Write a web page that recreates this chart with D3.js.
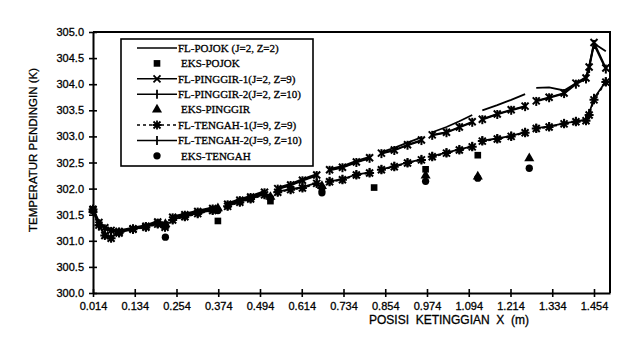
<!DOCTYPE html>
<html>
<head>
<meta charset="utf-8">
<script src="https://cdn.jsdelivr.net/npm/d3@7"></script>
<style>
  body { margin: 0; background: #fff; }
  svg { display: block; }
</style>
</head>
<body>
<svg></svg>
<script>
// x positions of simulated points (null = break between tube sections)
let xFL = [0.014, 0.031, 0.048, 0.066, 0.089, 0.129, 0.166, 0.200, 0.221, null,
           0.243, 0.278, 0.315, 0.358, null,
           0.401, 0.436, 0.467, 0.507, null,
           0.545, 0.582, 0.616, 0.657, null,
           0.694, 0.731, 0.771, 0.809, null,
           0.843, 0.880, 0.918, 0.958, null,
           0.989, 1.030, 1.067, 1.104, null,
           1.133, 1.176, 1.216, 1.256, null,
           1.288, 1.325, 1.368, 1.402, 1.431, 1.440, 1.454, 1.488]

let flPojok = [301.62, 301.37, 301.27, 301.22, 301.20, 301.25, 301.30, 301.38, 301.32, null,
               301.47, 301.52, 301.58, 301.64, null,
               301.72, 301.80, 301.86, 301.95, null,
               302.02, 302.09, 302.18, 302.28, null,
               302.38, 302.43, 302.53, 302.61, null,
               302.70, 302.78, 302.88, 302.98, null,
               303.08, 303.18, 303.29, 303.41, null,
               303.50, 303.60, 303.70, 303.81, null,
               303.93, 303.94, 303.88, 304.02, 304.14, 304.35, 304.78, 304.63]

let flPinggir1 = [301.60, 301.35, 301.25, 301.20, 301.18, 301.23, 301.28, 301.36, 301.30, null,
                  301.45, 301.50, 301.56, 301.62, null,
                  301.70, 301.78, 301.84, 301.93, null,
                  302.00, 302.07, 302.16, 302.26, null,
                  302.36, 302.41, 302.51, 302.59, null,
                  302.68, 302.74, 302.84, 302.93, null,
                  303.03, 303.08, 303.18, 303.28, null,
                  303.33, 303.43, 303.51, 303.58, null,
                  303.68, 303.75, 303.83, 304.02, 304.12, 304.33, 304.80, 304.31]

let flPinggir2 = [301.59, 301.33, 301.23, 301.18, 301.17, 301.22, 301.27, 301.34, 301.29, null,
                  301.44, 301.49, 301.55, 301.61, null,
                  301.69, 301.77, 301.83, 301.92, null,
                  301.99, 302.06, 302.15, 302.25, null,
                  302.35, 302.40, 302.50, 302.58, null,
                  302.67, 302.73, 302.83, 302.92, null,
                  303.02, 303.07, 303.17, 303.27, null,
                  303.32, 303.42, 303.50, 303.57, null,
                  303.67, 303.74, 303.82, 304.00, 304.10, 304.30, 304.76, 304.29]

let flTengah1 = [301.60, 301.30, 301.10, 301.05, 301.15, 301.22, 301.26, 301.32, 301.26, null,
                 301.40, 301.46, 301.52, 301.58, null,
                 301.66, 301.74, 301.80, 301.88, null,
                 301.93, 301.98, 302.01, 302.10, null,
                 302.13, 302.17, 302.26, 302.30, null,
                 302.36, 302.42, 302.49, 302.55, null,
                 302.61, 302.68, 302.74, 302.80, null,
                 302.91, 302.95, 303.00, 303.07, null,
                 303.15, 303.18, 303.24, 303.28, 303.30, 303.41, 303.70, 304.04]

let flTengah2 = [301.58, 301.28, 301.12, 301.07, 301.16, 301.23, 301.27, 301.33, 301.27, null,
                 301.41, 301.47, 301.53, 301.59, null,
                 301.67, 301.75, 301.81, 301.89, null,
                 301.94, 301.99, 302.03, 302.11, null,
                 302.14, 302.18, 302.27, 302.31, null,
                 302.37, 302.43, 302.50, 302.56, null,
                 302.62, 302.69, 302.75, 302.81, null,
                 302.92, 302.96, 303.01, 303.08, null,
                 303.16, 303.19, 303.25, 303.29, 303.32, 303.44, 303.73, 304.05]

// measured points
let xEks = [0.014, 0.222, 0.373, 0.524, 0.672, 0.822, 0.970, 1.120, 1.268]
let eksPojok   = [301.60, 301.30, 301.38, 301.76, 302.00, 302.02, 302.37, 302.64, null]
let eksPinggir = [301.60, 301.32, 301.62, 301.84, 302.05, null, 302.25, 302.23, 302.58]
let eksTengah  = [301.58, 301.07, 301.58, 301.82, 301.92, null, 302.14, 302.20, 302.39]

let xTicks = [0.014, 0.134, 0.254, 0.374, 0.494, 0.614, 0.734, 0.854, 0.974, 1.094, 1.214, 1.334, 1.454]
let yTicks = [300.0, 300.5, 301.0, 301.5, 302.0, 302.5, 303.0, 303.5, 304.0, 304.5, 305.0]

let width = 632
let height = 342
let padLeft = 93, padRight = 610, padTop = 32, padBottom = 293

let svg = d3.select('svg').attr('width', width).attr('height', height)

let xScale = d3.scaleLinear().domain([0.014, 1.5]).range([padLeft, padRight])
let yScale = d3.scaleLinear().domain([300, 305]).range([padBottom, padTop])

// marker shapes
let mk = {
  x: 'M-3.5,-3.5L3.5,3.5M-3.5,3.5L3.5,-3.5',
  plus: 'M0,-4.5V4.5',
  star: 'M-3.5,-3.5L3.5,3.5M-3.5,3.5L3.5,-3.5M0,-4.5V4.5M-4.5,0H4.5'
}

let flSeries = [
  {name: 'FL-POJOK (J=2, Z=2)', vals: flPojok, dash: null, marker: null},
  {name: 'FL-PINGGIR-1(J=2, Z=9)', vals: flPinggir1, dash: null, marker: 'x'},
  {name: 'FL-PINGGIR-2(J=2, Z=10)', vals: flPinggir2, dash: null, marker: 'plus'},
  {name: 'FL-TENGAH-1(J=9, Z=9)', vals: flTengah1, dash: '3,3', marker: 'star'},
  {name: 'FL-TENGAH-2(J=9, Z=10)', vals: flTengah2, dash: null, marker: 'plus'}
]

let eksSeries = [
  {name: 'EKS-POJOK', vals: eksPojok, shape: d3.symbolSquare, size: 44},
  {name: 'EKS-PINGGIR', vals: eksPinggir, shape: d3.symbolTriangle, size: 44},
  {name: 'EKS-TENGAH', vals: eksTengah, shape: d3.symbolCircle, size: 42}
]

let line = d3.line()
  .defined(d => d[0] != null && d[1] != null)
  .x(d => xScale(d[0]))
  .y(d => yScale(d[1]))

let plot = svg.append('g')

flSeries.forEach(s => {
  let pts = xFL.map((x, i) => [x, s.vals[i]])
  plot.append('path')
    .datum(pts)
    .attr('d', line)
    .attr('fill', 'none')
    .attr('stroke', '#000')
    .attr('stroke-width', 1.8)
    .attr('stroke-dasharray', s.dash)
  if (s.marker) {
    plot.selectAll(null)
      .data(pts.filter(d => d[0] != null && d[1] != null))
      .enter()
      .append('path')
      .attr('transform', d => 'translate(' + xScale(d[0]) + ',' + yScale(d[1]) + ')')
      .attr('d', mk[s.marker])
      .attr('stroke', '#000')
      .attr('stroke-width', 2)
      .attr('fill', 'none')
  }
})

eksSeries.forEach(s => {
  plot.selectAll(null)
    .data(xEks.map((x, i) => [x, s.vals[i]]).filter(d => d[1] != null))
    .enter()
    .append('path')
    .attr('transform', d => 'translate(' + xScale(d[0]) + ',' + yScale(d[1]) + ')')
    .attr('d', d3.symbol().type(s.shape).size(s.size))
    .attr('fill', '#000')
})

// axes
let xAxis = d3.axisBottom(xScale).tickValues(xTicks).tickFormat(d3.format('.3f')).tickSizeOuter(0)
let gx = svg.append('g')
  .attr('transform', 'translate(0,' + padBottom + ')')
  .call(xAxis)
gx.selectAll('.tick line').attr('y1', -4).attr('y2', 4).attr('stroke-width', 1.6)
gx.selectAll('.tick text').attr('y', 13).attr('dy', '0.35em')
  .style('font-family', 'Liberation Sans, Arial, sans-serif').style('font-size', '11px')
  .attr('stroke', '#000').attr('stroke-width', 0.3)
gx.select('.domain').attr('stroke-width', 2)

let yAxis = d3.axisLeft(yScale).tickValues(yTicks).tickFormat(d3.format('.1f')).tickSizeOuter(0)
let gy = svg.append('g')
  .attr('transform', 'translate(' + padLeft + ',0)')
  .call(yAxis)
gy.selectAll('.tick line').attr('x1', -4).attr('x2', 4).attr('stroke-width', 1.6)
gy.selectAll('.tick text').attr('x', -9)
  .style('font-family', 'Liberation Sans, Arial, sans-serif').style('font-size', '11px')
  .attr('stroke', '#000').attr('stroke-width', 0.3)
gy.select('.domain').attr('stroke-width', 2)

// frame top / right
svg.append('path')
  .attr('d', 'M' + padLeft + ',' + padTop + 'H' + padRight + 'V' + padBottom)
  .attr('fill', 'none').attr('stroke', '#000').attr('stroke-width', 2)

// axis titles
svg.append('text')
  .attr('transform', 'translate(37,150) rotate(-90)')
  .attr('text-anchor', 'middle')
  .style('font-family', 'Liberation Sans, Arial, sans-serif').style('font-size', '11.5px')
  .attr('stroke', '#000').attr('stroke-width', 0.3)
  .text('TEMPERATUR PENDINGIN (K)')

svg.append('text')
  .attr('x', 449).attr('y', 324)
  .attr('text-anchor', 'middle')
  .style('font-family', 'Liberation Sans, Arial, sans-serif').style('font-size', '12px')
  .style('white-space', 'pre')
  .attr('stroke', '#000').attr('stroke-width', 0.3)
  .text('POSISI  KETINGGIAN  X  (m)')

// legend
let legendOrder = [
  {kind: 'fl', s: flSeries[0]},
  {kind: 'eks', s: eksSeries[0]},
  {kind: 'fl', s: flSeries[1]},
  {kind: 'fl', s: flSeries[2]},
  {kind: 'eks', s: eksSeries[1]},
  {kind: 'fl', s: flSeries[3]},
  {kind: 'fl', s: flSeries[4]},
  {kind: 'eks', s: eksSeries[2]}
]

let lg = svg.append('g')
lg.append('rect')
  .attr('x', 121).attr('y', 39).attr('width', 192).attr('height', 127)
  .attr('fill', '#fff').attr('stroke', '#000').attr('stroke-width', 1.6)

legendOrder.forEach((item, i) => {
  let y = 48 + i * 15.4
  let row = lg.append('g').attr('transform', 'translate(0,' + y + ')')
  if (item.kind === 'fl') {
    row.append('line')
      .attr('x1', 137).attr('x2', 177).attr('y1', 0).attr('y2', 0)
      .attr('stroke', '#000').attr('stroke-width', 1.5)
      .attr('stroke-dasharray', item.s.dash)
    if (item.s.marker) {
      row.append('path')
        .attr('transform', 'translate(157,0)')
        .attr('d', mk[item.s.marker])
        .attr('stroke', '#000').attr('stroke-width', 1.8).attr('fill', 'none')
    }
  } else {
    row.append('path')
      .attr('transform', 'translate(157,0)')
      .attr('d', d3.symbol().type(item.s.shape).size(item.s.size))
      .attr('fill', '#000')
  }
  row.append('text')
    .attr('x', item.kind === 'fl' ? 178 : 181)
    .attr('y', 0).attr('dy', '0.35em')
    .style('font-family', 'Liberation Serif, Times New Roman, serif')
    .style('font-size', '11px')
    .attr('stroke', '#000').attr('stroke-width', 0.3)
    .text(item.s.name)
})
</script>
</body>
</html>
